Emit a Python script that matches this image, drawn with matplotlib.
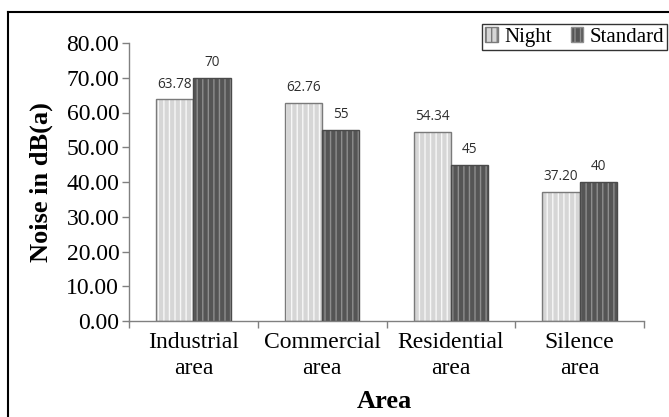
import matplotlib
matplotlib.use("Agg")
import matplotlib.pyplot as plt
from matplotlib.patches import Patch
from matplotlib.lines import Line2D
import numpy as np

# Data
categories = ["Industrial\narea", "Commercial\narea", "Residential\narea", "Silence\narea"]
night = [63.78, 62.76, 54.34, 37.20]
standard = [70, 55, 45, 40]
yticks = [0, 10, 20, 30, 40, 50, 60, 70, 80]

W, H = 669, 417
fig = plt.figure(figsize=(W / 100, H / 100), dpi=100)
plt.rcParams["hatch.linewidth"] = 1.0

serif = ["Liberation Serif", "DejaVu Serif"]
sans = ["Open Sans", "DejaVu Sans"]

ax = fig.add_axes([129 / W, 1 - 321 / H, (644 - 129) / W, (321 - 43) / H])

x = np.arange(len(categories))
bw = 0.29

night_face, night_hatch = "#d6d6d6", "#f7f7f7"
std_face, std_hatch = "#555555", "#8e8e8e"

# hatched fills
ax.bar(x - bw / 2, night, bw, color=night_face, edgecolor=night_hatch,
       hatch="|||", linewidth=0, zorder=2)
ax.bar(x + bw / 2, standard, bw, color=std_face, edgecolor=std_hatch,
       hatch="|||", linewidth=0, zorder=2)
# outlines
ax.bar(x - bw / 2, night, bw, fill=False, edgecolor="#7a7a7a", linewidth=1.0, zorder=3)
ax.bar(x + bw / 2, standard, bw, fill=False, edgecolor="#4a4a4a", linewidth=1.0, zorder=3)

# value labels
for xi, v in zip(x - bw / 2, night):
    ax.annotate(f"{v:.2f}", (xi, v), xytext=(0, 8.5), textcoords="offset points",
                ha="center", va="baseline", fontsize=9.8, color="#2e2e2e", family=sans)
for xi, v in zip(x + bw / 2, standard):
    ax.annotate(f"{v:d}", (xi, v), xytext=(0, 8.5), textcoords="offset points",
                ha="center", va="baseline", fontsize=9.8, color="#2e2e2e", family=sans)

ax.set_xlim(-0.5, len(categories) - 0.5)
ax.set_ylim(0, 80)
ax.set_yticks(yticks)
ax.set_yticklabels([f"{t:.2f}" for t in yticks], family=serif, fontsize=17)

# category boundary ticks with labels centred between them
ax.set_xticks(np.arange(-0.5, len(categories), 1.0))
ax.set_xticklabels([])
ax.set_xticks(x, minor=True)
ax.set_xticklabels(categories, minor=True, family=serif, fontsize=17, linespacing=1.28)
ax.tick_params(axis="x", which="minor", length=0, pad=8)
ax.tick_params(axis="x", which="major", length=5, color="#808080", width=1)
ax.tick_params(axis="y", length=5, color="#808080", width=1, pad=2)

for s in ["top", "right"]:
    ax.spines[s].set_visible(False)
for s in ["left", "bottom"]:
    ax.spines[s].set_color("#808080")
    ax.spines[s].set_linewidth(1)

ax.set_ylabel("Noise in dB(a)", family=serif, fontsize=19, fontweight="bold", labelpad=10)
fig.text(384.5 / W, 1 - 408 / H, "Area", family=serif, fontsize=19, fontweight="bold",
         ha="center", va="baseline")

# legend
handles = [Patch(facecolor=night_face, edgecolor="#7a7a7a", hatch="|||"),
           Patch(facecolor=std_face, edgecolor="#8e8e8e", hatch="|||")]
leg = fig.legend(handles, ["Night", "Standard"], loc="upper right",
                 bbox_to_anchor=(667 / W, 1 - 24 / H), ncol=2, frameon=True,
                 fancybox=False, prop={"family": serif, "size": 15},
                 handlelength=0.6, handleheight=0.75, handletextpad=0.3,
                 columnspacing=0.9, borderpad=0.15, borderaxespad=0)
leg.get_frame().set_edgecolor("black")
leg.get_frame().set_linewidth(1.0)

# outer frame
fig.add_artist(Line2D([8 / W, 8 / W], [0, 1 - 11.5 / H], transform=fig.transFigure,
                      color="black", linewidth=1.5))
fig.add_artist(Line2D([8 / W, 1], [1 - 11.5 / H, 1 - 11.5 / H], transform=fig.transFigure,
                      color="black", linewidth=1.5))

fig.savefig("out.png", dpi=100)
